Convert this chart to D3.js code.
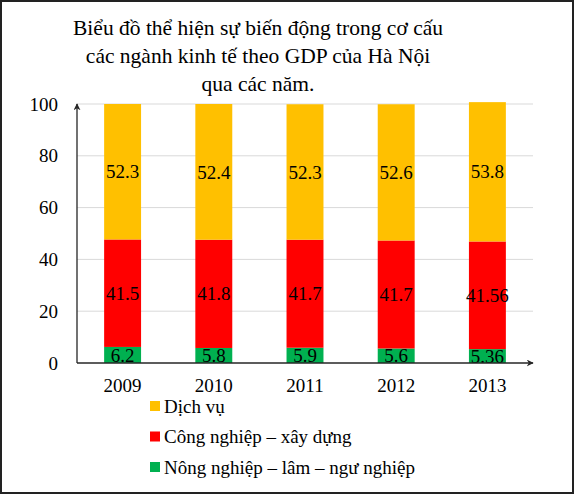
<!DOCTYPE html>
<html>
<head>
<meta charset="utf-8">
<script src="https://cdn.jsdelivr.net/npm/d3@7"></script>
<style>
  body { margin: 0; background: #fff; }
  text { font-family: "Liberation Serif", "Times New Roman", Times, serif; }
</style>
</head>
<body>
<svg id="chart" width="575" height="494"></svg>
<script>
// chart data
var years = ["2009", "2010", "2011", "2012", "2013"];
var nongNghiep = [6.2, 5.8, 5.9, 5.6, 5.36];
var congNghiep = [41.5, 41.8, 41.7, 41.7, 41.56];
var dichVu = [52.3, 52.4, 52.3, 52.6, 53.8];
var yTicks = [0, 20, 40, 60, 80, 100];

var titleLines = [
  "Biểu đồ thể hiện sự biến động trong cơ cấu",
  "các ngành kinh tế theo GDP của Hà Nội",
  "qua các năm."
];

var series = [
  { key: "nong", name: "Nông nghiệp  – lâm – ngư nghiệp", values: nongNghiep, color: "#00b050" },
  { key: "cong", name: "Công nghiệp  – xây dựng", values: congNghiep, color: "#ff0000" },
  { key: "dich", name: "Dịch vụ", values: dichVu, color: "#ffc000" }
];

var FONT = "'Liberation Serif', 'Times New Roman', serif";
var svg = d3.select("#chart").attr("font-family", FONT);
var W = 575, H = 494;
var plot = { left: 77, right: 533, top: 104, bottom: 363 };

// outer frame
svg.append("rect")
  .attr("x", 1).attr("y", 1)
  .attr("width", W - 3).attr("height", H - 2)
  .attr("fill", "none").attr("stroke", "#222").attr("stroke-width", 2);

// title
svg.append("g").selectAll("text")
  .data(titleLines)
  .enter().append("text")
  .attr("x", 258)
  .attr("y", function(d, i) { return 35 + i * 28; })
  .attr("text-anchor", "middle")
  .attr("font-family", FONT)
  .attr("font-size", 21.5)
  .attr("fill", "#000")
  .text(function(d) { return d; });

var x = d3.scaleBand()
  .domain(years)
  .range([plot.left, plot.right])
  .paddingInner(0.595)
  .paddingOuter(0.2975);

var y = d3.scaleLinear()
  .domain([0, 100])
  .range([plot.bottom, plot.top]);

// gridlines
svg.append("g").selectAll("line")
  .data(yTicks.filter(function(t) { return t > 0; }))
  .enter().append("line")
  .attr("x1", plot.left).attr("x2", plot.right)
  .attr("y1", function(d) { return y(d); })
  .attr("y2", function(d) { return y(d); })
  .attr("stroke", "#d9d9d9").attr("stroke-width", 1);

// stack the series
var rows = years.map(function(yr, i) {
  var r = { year: yr };
  series.forEach(function(s) { r[s.key] = s.values[i]; });
  return r;
});
var stacked = d3.stack().keys(series.map(function(s) { return s.key; }))(rows);

var layers = svg.append("g").selectAll("g")
  .data(stacked)
  .enter().append("g")
  .attr("fill", function(d, i) { return series[i].color; });

layers.selectAll("rect")
  .data(function(d) { return d; })
  .enter().append("rect")
  .attr("x", function(d) { return x(d.data.year); })
  .attr("width", x.bandwidth())
  .attr("y", function(d) { return y(d[1]); })
  .attr("height", function(d) { return y(d[0]) - y(d[1]); });

// value labels
layers.selectAll("text")
  .data(function(d) { return d.map(function(p) { return { p: p, key: d.key }; }); })
  .enter().append("text")
  .attr("x", function(d) { return x(d.p.data.year) + x.bandwidth() / 2; })
  .attr("y", function(d) { return (y(d.p[0]) + y(d.p[1])) / 2; })
  .attr("dy", "0.35em")
  .attr("text-anchor", "middle")
  .attr("font-family", FONT)
  .attr("font-size", 19)
  .attr("fill", "#000")
  .text(function(d) { return d.p.data[d.key]; });

// axes
var defs = svg.append("defs");
defs.append("marker")
  .attr("id", "arrow")
  .attr("viewBox", "0 0 10 10")
  .attr("refX", 9).attr("refY", 5)
  .attr("markerWidth", 7).attr("markerHeight", 7)
  .attr("markerUnits", "userSpaceOnUse")
  .attr("orient", "auto")
  .append("path")
  .attr("d", "M0,0 L10,5 L0,10 L3,5 Z")
  .attr("fill", "#262626");

svg.append("line")
  .attr("x1", plot.left).attr("y1", plot.bottom)
  .attr("x2", plot.left).attr("y2", plot.top)
  .attr("stroke", "#262626").attr("stroke-width", 1.3)
  .attr("marker-end", "url(#arrow)");

svg.append("line")
  .attr("x1", plot.left).attr("y1", plot.bottom)
  .attr("x2", plot.right).attr("y2", plot.bottom)
  .attr("stroke", "#262626").attr("stroke-width", 1.3)
  .attr("marker-end", "url(#arrow)");

// tick labels
svg.append("g").selectAll("text")
  .data(yTicks)
  .enter().append("text")
  .attr("x", 58)
  .attr("y", function(d) { return y(d); })
  .attr("dy", "0.35em")
  .attr("text-anchor", "end")
  .attr("font-family", FONT)
  .attr("font-size", 19)
  .text(function(d) { return d; });

svg.append("g").selectAll("text")
  .data(years)
  .enter().append("text")
  .attr("x", function(d) { return x(d) + x.bandwidth() / 2; })
  .attr("y", 392)
  .attr("text-anchor", "middle")
  .attr("font-family", FONT)
  .attr("font-size", 19)
  .text(function(d) { return d; });

// legend, top entry first
var legend = svg.append("g").selectAll("g")
  .data(series.slice().reverse())
  .enter().append("g")
  .attr("transform", function(d, i) { return "translate(150," + (406 + i * 30.5) + ")"; });

legend.append("rect")
  .attr("x", 0).attr("y", -5)
  .attr("width", 10).attr("height", 10)
  .attr("fill", function(d) { return d.color; });

legend.append("text")
  .attr("x", 14)
  .attr("dy", "0.35em")
  .attr("font-family", FONT)
  .attr("font-size", 19)
  .text(function(d) { return d.name; });
</script>
</body>
</html>
